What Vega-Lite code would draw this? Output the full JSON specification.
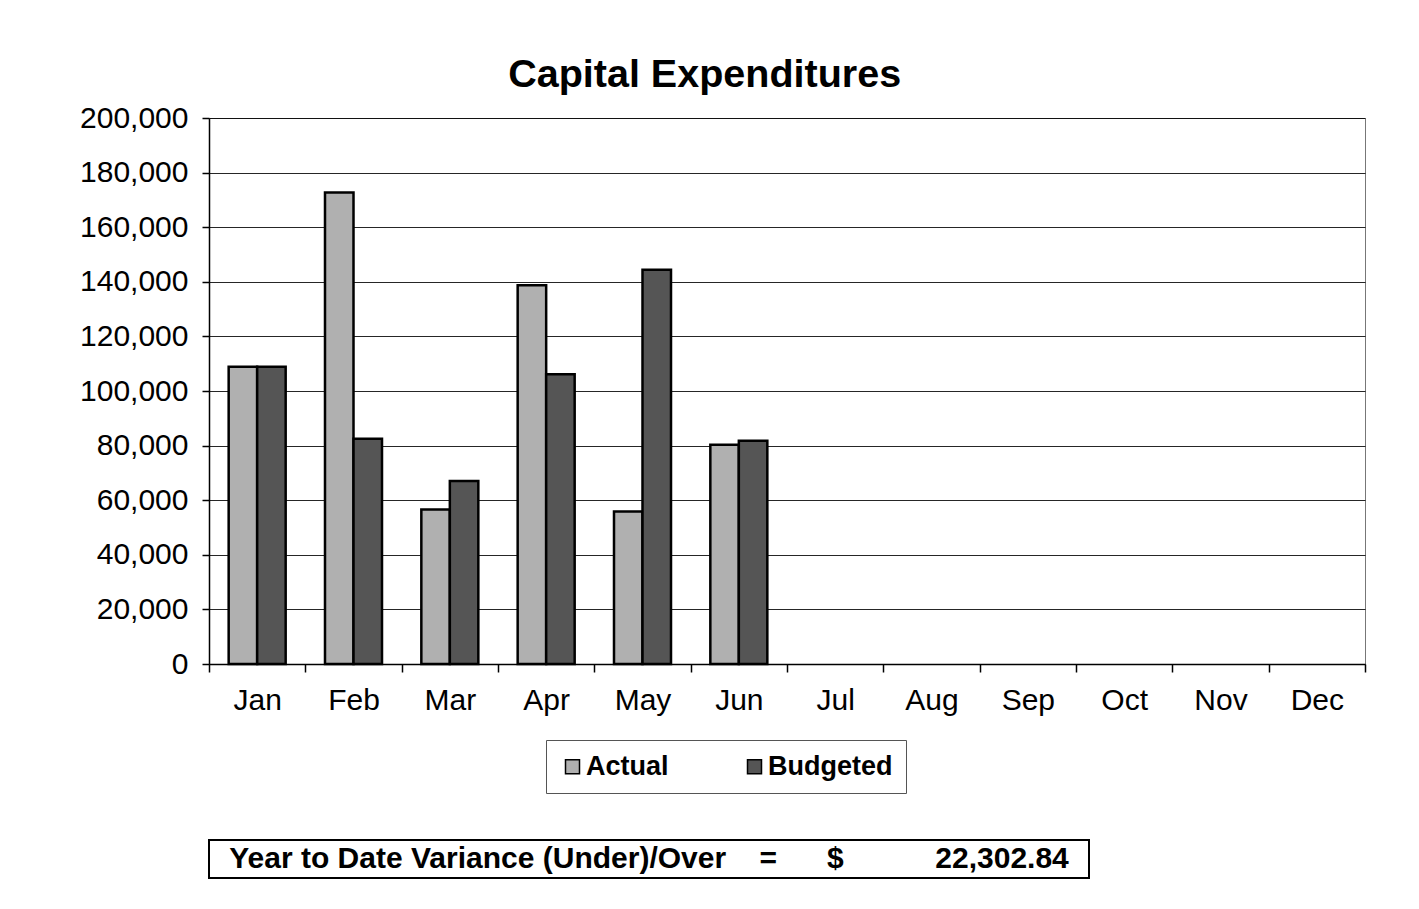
{
  "$schema": "https://vega.github.io/schema/vega-lite/v6.json",
  "background": "white",
  "padding": {"left": 79, "top": 54, "right": 0, "bottom": 0},
  "config": {
    "font": "Liberation Sans",
    "view": {"stroke": "#777777", "strokeWidth": 1}
  },
  "resolve": {"legend": {"color": "independent"}},
  "spacing": 45,
  "vconcat": [
    {
      "title": {
        "text": "Capital Expenditures",
        "fontSize": 39.5,
        "fontWeight": "bold",
        "font": "Liberation Sans",
        "color": "black",
        "anchor": "middle",
        "frame": "bounds",
        "dx": -18,
        "offset": 8
      },
      "width": 1156,
      "height": 546,
      "data": {
        "values": [
          {"month": "Jan", "series": "Actual", "amount": 108900},
          {"month": "Jan", "series": "Budgeted", "amount": 108900},
          {"month": "Feb", "series": "Actual", "amount": 172700},
          {"month": "Feb", "series": "Budgeted", "amount": 82500},
          {"month": "Mar", "series": "Actual", "amount": 56600},
          {"month": "Mar", "series": "Budgeted", "amount": 67000},
          {"month": "Apr", "series": "Actual", "amount": 138700},
          {"month": "Apr", "series": "Budgeted", "amount": 106100},
          {"month": "May", "series": "Actual", "amount": 55900},
          {"month": "May", "series": "Budgeted", "amount": 144400},
          {"month": "Jun", "series": "Actual", "amount": 80300},
          {"month": "Jun", "series": "Budgeted", "amount": 81800}
        ]
      },
      "mark": {"type": "bar", "stroke": "black", "strokeWidth": 2.5},
      "encoding": {
        "x": {
          "field": "month",
          "type": "nominal",
          "sort": null,
          "scale": {
            "domain": ["Jan", "Feb", "Mar", "Apr", "May", "Jun", "Jul", "Aug", "Sep", "Oct", "Nov", "Dec"],
            "paddingInner": 0,
            "paddingOuter": 0
          },
          "axis": {
            "title": null,
            "labelAngle": 0,
            "labelFontSize": 30,
            "labelFont": "Liberation Sans",
            "labelColor": "black",
            "labelPadding": 13,
            "tickBand": "extent",
            "tickSize": 8,
            "tickColor": "black",
            "tickWidth": 1.5,
            "domainColor": "black",
            "domainWidth": 1.5,
            "grid": false
          }
        },
        "xOffset": {
          "field": "series",
          "type": "nominal",
          "scale": {"domain": ["Actual", "Budgeted"], "paddingInner": 0, "paddingOuter": 0.69}
        },
        "y": {
          "field": "amount",
          "type": "quantitative",
          "scale": {"domain": [0, 200000], "nice": false},
          "axis": {
            "title": null,
            "format": ",d",
            "tickCount": 10,
            "labelFontSize": 30,
            "labelFont": "Liberation Sans",
            "labelColor": "black",
            "labelPadding": 14,
            "tickSize": 7,
            "tickColor": "black",
            "tickWidth": 1.5,
            "domainColor": "black",
            "domainWidth": 1.5,
            "gridColor": "black",
            "gridWidth": 1,
            "gridOpacity": 0.85
          }
        },
        "color": {
          "field": "series",
          "type": "nominal",
          "scale": {"domain": ["Actual", "Budgeted"], "range": ["#b0b0b0", "#555555"]},
          "legend": {
            "title": null,
            "orient": "none",
            "legendX": 337,
            "legendY": 622,
            "direction": "horizontal",
            "symbolType": "square",
            "symbolSize": 196,
            "symbolStrokeColor": "black",
            "symbolStrokeWidth": 1.5,
            "labelFontSize": 27,
            "labelFont": "Liberation Sans",
            "labelFontWeight": "bold",
            "labelColor": "black",
            "labelOffset": 0,
            "labelLimit": 500,
            "columnPadding": 72,
            "padding": 13,
            "strokeColor": "#555555"
          }
        }
      }
    },
    {
      "width": 880,
      "height": 38,
      "view": {"stroke": "black", "strokeWidth": 2},
      "data": {
        "values": [
          {"caption": "Year to Date Variance (Under)/Over\u00a0\u00a0\u00a0\u00a0=\u00a0\u00a0\u00a0\u00a0\u00a0\u00a0$\u00a0\u00a0\u00a0\u00a0\u00a0\u00a0\u00a0\u00a0\u00a0\u00a0\u00a022,302.84"}
        ]
      },
      "mark": {"type": "text", "fontSize": 30, "fontWeight": "bold", "font": "Liberation Sans", "color": "black"},
      "encoding": {
        "text": {"field": "caption", "type": "nominal"}
      }
    }
  ]
}
